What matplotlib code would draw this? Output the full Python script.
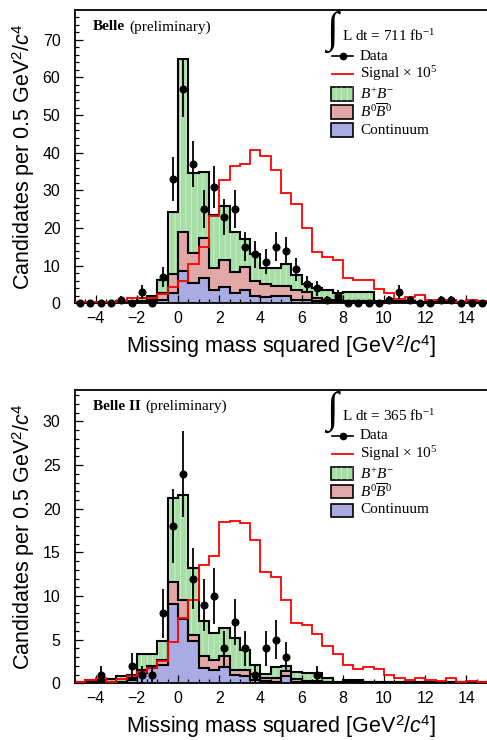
import numpy as np
import matplotlib
matplotlib.use("Agg")
import matplotlib.pyplot as plt
from matplotlib.patches import Rectangle
from matplotlib.lines import Line2D
from matplotlib.ticker import MultipleLocator

plt.rcParams["mathtext.fontset"] = "custom"
plt.rcParams["mathtext.rm"] = "Liberation Serif"
plt.rcParams["mathtext.it"] = "Liberation Serif:italic"
plt.rcParams["mathtext.bf"] = "Liberation Serif:bold"
plt.rcParams["mathtext.sf"] = "Liberation Sans"
plt.rcParams["mathtext.cal"] = "Liberation Sans:italic"
plt.rcParams["hatch.linewidth"] = 0.5

# Missing-mass-squared binning: 0.5 GeV^2/c^4 bins from -5 to 15
bin_edges = np.arange(-5.0, 15.01, 0.5)

# ---------------- Belle (711 fb^-1) ----------------
belle_data = [0, 0, 0, 0, 1, 0, 3, 0, 7, 33,
              57, 37, 25, 31, 23, 25, 15, 13, 11, 15,
              14, 9, 5, 4, 1, 2, 0, 0, 0, 0,
              1, 3, 1, 0, 0, 1, 1, 0, 0, 0]
belle_signal = [0.4, 0.4, 0.4, 0.4, 0.6, 1.3, 1.3, 1.3, 2.4, 4.4,
                6.0, 10.5, 15.0, 23.2, 32.7, 36.5, 36.9, 40.7, 39.2, 35.4,
                29.2, 26.5, 19.9, 13.5, 12.4, 11.5, 6.8, 6.2, 6.2, 3.7,
                2.7, 1.2, 1.6, 2.2, 1.0, 0.8, 0.8, 0.4, 0.8, 0.5]
belle_continuum = [0.0, 0.0, 0.0, 0.0, 0.1, 0.1, 0.2, 0.4, 0.8, 2.7,
                   8.5, 5.5, 6.6, 3.6, 4.3, 2.8, 3.5, 2.0, 1.7, 1.9,
                   2.0, 1.0, 0.8, 0.5, 0.3, 0.3, 0.2, 0.2, 0.2, 0.1,
                   0.1, 0.1, 0.1, 0.1, 0.1, 0.1, 0.1, 0.1, 0.1, 0.1]
belle_b0b0 = [0.1, 0.1, 0.1, 0.1, 0.1, 0.2, 0.3, 0.6, 2.0, 5.1,
              10.5, 7.9, 10.8, 5.7, 7.3, 5.6, 6.1, 3.8, 3.5, 2.7,
              2.6, 2.6, 2.2, 1.0, 0.7, 0.5, 0.4, 0.3, 0.3, 0.2,
              0.1, 0.1, 0.1, 0.1, 0.1, 0.1, 0.1, 0.1, 0.1, 0.1]
belle_bpbm = [0.1, 0.1, 0.1, 0.1, 0.3, 0.4, 0.8, 0.9, 3.4, 16.5,
              46.0, 21.1, 17.6, 14.2, 14.2, 10.6, 7.4, 7.2, 4.1, 4.7,
              5.9, 4.0, 2.0, 2.5, 2.6, 2.0, 2.4, 2.5, 2.5, 0.3,
              0.4, 0.3, 0.3, 0.2, 0.2, 0.1, 0.1, 0.1, 0.1, 0.1]

# ---------------- Belle II (365 fb^-1) ----------------
belle2_data = [0, 0, 1, 0, 0, 2, 1, 1, 8, 18,
               24, 12, 9, 10, 4, 7, 4, 1, 4, 5,
               3, 0, 0, 1, 0, 0, 0, 0, 0, 0,
               0, 0, 0, 0, 0, 0, 0, 0, 0, 0]
belle2_signal = [0.2, 0.4, 0.6, 0.2, 0.5, 0.8, 1.3, 1.7, 2.5, 4.7,
                 7.5, 9.6, 13.5, 14.6, 18.5, 18.6, 18.4, 16.4, 12.8, 12.2,
                 9.6, 6.9, 6.7, 5.7, 4.3, 3.4, 2.1, 1.6, 1.9, 1.6,
                 1.0, 0.6, 0.4, 0.6, 0.4, 0.3, 0.6, 0.2, 0.3, 0.2]
belle2_continuum = [0.0, 0.0, 0.1, 0.1, 0.1, 0.4, 1.2, 1.7, 2.1, 9.1,
                    7.4, 4.8, 1.7, 1.5, 1.9, 1.0, 0.8, 0.4, 0.3, 0.2,
                    0.8, 0.2, 0.1, 0.05, 0.05, 0.05, 0.05, 0.05, 0.05, 0.05,
                    0.05, 0.05, 0.05, 0.05, 0.05, 0.05, 0.05, 0.05, 0.05, 0.05]
belle2_b0b0 = [0.1, 0.1, 0.1, 0.1, 0.1, 0.2, 0.3, 0.3, 0.6, 2.5,
               2.2, 0.7, 1.4, 1.2, 1.2, 0.5, 0.7, 0.7, 0.3, 0.4,
               0.65, 0.3, 0.2, 0.25, 0.15, 0.05, 0.05, 0.05, 0.05, 0.05,
               0.05, 0.05, 0.05, 0.05, 0.05, 0.05, 0.05, 0.05, 0.05, 0.05]
belle2_bpbm = [0.1, 0.3, 0.2, 0.3, 0.6, 0.4, 1.8, 1.3, 2.1, 9.6,
               12.0, 7.7, 4.0, 3.1, 3.2, 3.7, 2.3, 1.0, 0.5, 1.3,
               0.55, 0.8, 0.9, 0.9, 0.4, 0.0, 0.3, 0.3, 0.0, 0.0,
               0.0, 0.0, 0.0, 0.0, 0.0, 0.0, 0.0, 0.0, 0.0, 0.0]

GREEN = "#a6dea6"
RED = "#e2a8a8"
BLUE = "#ababe3"
HATCH_WHITE = (1, 1, 1, 0.55)

W, H = 487, 740
AX_LEFT, AX_W, AX_H = 75, 412, 293.3
SANS = ["Liberation Sans", "DejaVu Sans"]
SERIF = ["Liberation Serif", "DejaVu Serif"]


def px(ax_x, ax_y):
    """Offsets in pixels from the top-left corner of an axes -> axes fraction."""
    return ax_x / AX_W, 1.0 - ax_y / AX_H


def draw_panel(ax, data, signal, cont, b0b0, bpbm, experiment, lumi,
               ymax, ymajor, yminor, show_empty):
    data = np.asarray(data, float)
    c1 = np.asarray(cont, float)
    c2 = c1 + np.asarray(b0b0, float)
    c3 = c2 + np.asarray(bpbm, float)

    # stacked backgrounds
    ax.stairs(c3, bin_edges, baseline=c2, fill=True, facecolor=GREEN,
              edgecolor=HATCH_WHITE, hatch="|||", linewidth=0, zorder=1)
    ax.stairs(c2, bin_edges, baseline=c1, fill=True, facecolor=RED,
              linewidth=0, zorder=1)
    ax.stairs(c1, bin_edges, baseline=0, fill=True, facecolor=BLUE,
              linewidth=0, zorder=1)
    for top in (c3, c2, c1):
        ax.stairs(top, bin_edges, baseline=None, color="black", lw=1.5, zorder=2)

    # signal shape (scaled by 1e5)
    ax.stairs(signal, bin_edges, baseline=None, color="red", lw=1.3, zorder=3)

    # data with Poisson errors
    centers = 0.5 * (bin_edges[:-1] + bin_edges[1:])
    m = np.ones_like(data, bool) if show_empty else data > 0
    ax.errorbar(centers[m], data[m], yerr=np.sqrt(data[m]), fmt="o",
                color="black", ms=4.8, elinewidth=1.3, capsize=0,
                zorder=4, clip_on=False)

    ax.set_xlim(-5, 15)
    ax.set_ylim(0, ymax)
    ax.xaxis.set_major_locator(MultipleLocator(2))
    ax.xaxis.set_minor_locator(MultipleLocator(0.5))
    ax.yaxis.set_major_locator(MultipleLocator(ymajor))
    ax.yaxis.set_minor_locator(MultipleLocator(yminor))
    ax.tick_params(which="both", direction="in", top=False, right=False,
                   width=0.9, labelsize=11.5)
    ax.tick_params(which="major", length=5.8)
    ax.tick_params(which="minor", length=2.9)
    ax.tick_params(axis="x", pad=5.5)
    ax.tick_params(axis="y", pad=10.5)
    for lab in ax.get_xticklabels() + ax.get_yticklabels():
        lab.set_family(SANS)
    for side in ("left", "bottom", "top"):
        ax.spines[side].set_linewidth(1.3)
    ax.spines["right"].set_visible(False)

    ax.set_xlabel(r"Missing mass squared [GeV$^{\mathsf{2}}$/$\mathcal{c}^{\mathsf{4}}$]",
                  family=SANS, fontsize=15.5)
    ax.set_ylabel(r"Candidates per 0.5 GeV$^{\mathsf{2}}$/$\mathcal{c}^{\mathsf{4}}$",
                  family=SANS, fontsize=15.5)
    ax.xaxis.set_label_coords(0.5, -0.103)
    ax.yaxis.set_label_coords(-0.092, 0.5)

    # experiment tag
    t = ax.text(*px(18, 17), experiment, transform=ax.transAxes, family=SERIF,
                fontweight="bold", fontsize=11, ha="left", va="center")
    ax.annotate("(preliminary)", xy=(1, 0), xycoords=t, xytext=(3, 0),
                textcoords="offset points", family=SERIF, fontsize=11,
                ha="left", va="bottom")

    # legend
    ax.text(*px(257, 22), "\u222b", transform=ax.transAxes, family=SERIF,
            fontsize=31, ha="center", va="center")
    ax.text(*px(267, 26), "L dt = %d fb$^{-1}$" % lumi, transform=ax.transAxes,
            family=SERIF, fontsize=11, ha="left", va="center")
    tx = 285
    x0, x1 = px(257, 0)[0], px(278, 0)[0]
    y = px(0, 46)[1]
    ax.add_line(Line2D([x0, x1], [y, y], color="black", lw=1.2,
                       transform=ax.transAxes))
    ax.add_line(Line2D([(x0 + x1) / 2], [y], marker="o", ms=4.5, color="black",
                       transform=ax.transAxes))
    ax.text(*px(tx, 46), "Data", transform=ax.transAxes, family=SERIF,
            fontsize=11, ha="left", va="center")
    y = px(0, 64)[1]
    ax.add_line(Line2D([x0, x1], [y, y], color="red", lw=1.3,
                       transform=ax.transAxes))
    ax.text(*px(tx, 64), "Signal \u00d7 10$^{5}$", transform=ax.transAxes,
            family=SERIF, fontsize=11, ha="left", va="center")
    entries = [(r"$B^{+}B^{-}$", GREEN, "|||", 84),
               (r"$B^{0}\overline{B}^{0}$", RED, None, 102),
               ("Continuum", BLUE, None, 120)]
    for label, col, hatch, yc in entries:
        bx, by = px(256, yc + 6.5)
        bw = 22 / AX_W
        bh = 13 / AX_H
        ax.add_patch(Rectangle((bx, by), bw, bh, transform=ax.transAxes,
                               facecolor=col, edgecolor="black", lw=1.2,
                               clip_on=False, zorder=5))
        if hatch:
            ax.add_patch(Rectangle((bx, by), bw, bh, transform=ax.transAxes,
                                   facecolor="none", edgecolor=HATCH_WHITE,
                                   hatch=hatch, lw=0, zorder=5))
        ax.text(*px(tx, yc), label, transform=ax.transAxes, family=SERIF,
                fontsize=11, ha="left", va="center")


fig = plt.figure(figsize=(W / 100, H / 100), dpi=100)
ax_top = fig.add_axes([AX_LEFT / W, (H - 303.3) / H, AX_W / W, AX_H / H])
ax_bot = fig.add_axes([AX_LEFT / W, (H - 683.3) / H, AX_W / W, AX_H / H])

draw_panel(ax_top, belle_data, belle_signal, belle_continuum, belle_b0b0,
           belle_bpbm, "Belle", 711, 77.9, 10, 2, True)
draw_panel(ax_bot, belle2_data, belle2_signal, belle2_continuum, belle2_b0b0,
           belle2_bpbm, "Belle II", 365, 33.6, 5, 1, False)

fig.savefig("out.png", dpi=100)
